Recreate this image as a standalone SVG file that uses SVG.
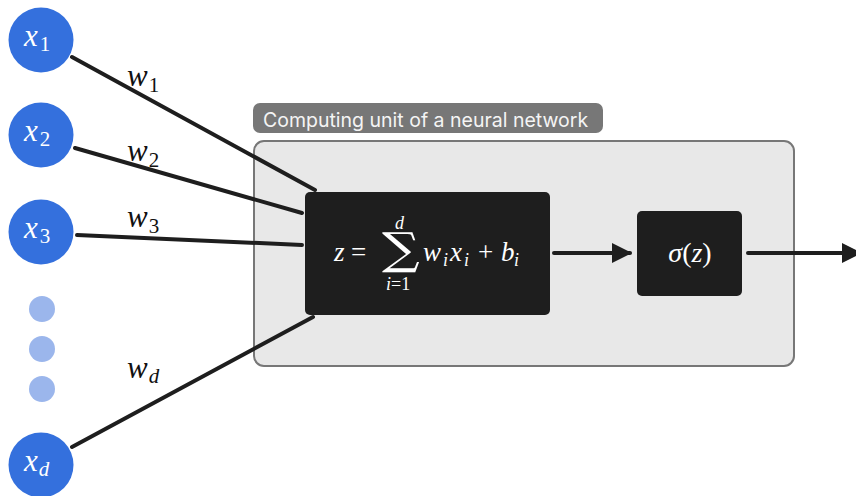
<svg xmlns="http://www.w3.org/2000/svg" width="856" height="496" viewBox="0 0 856 496">
  <style>
    .inp { fill: #3470dd; }
    .dot { fill: #9bb6ec; }
    .math { font-family: "Liberation Serif", "DejaVu Serif", serif; font-style: italic; }
    .up { font-style: normal; }
    .wt { fill: #111; font-size: 31px; }
    .lbl { fill: #fff; font-size: 31px; }
    .edge { stroke: #1e1e1e; stroke-width: 4; fill: none; stroke-linecap: round; }
    .blk { fill: #1e1e1e; }
    .f { fill: #fff; font-size: 27px; }
    .s { fill: #fff; font-size: 18px; }
    .big { fill: #fff; font-size: 44px; font-style: normal; font-family: "DejaVu Serif", serif; }
  </style>
  <defs>
    <marker id="head" viewBox="0 0 10 10" refX="9" refY="5" markerWidth="5" markerHeight="5.5" orient="auto" markerUnits="strokeWidth">
      <path d="M0,0 L10,5 L0,10 Z" fill="#1e1e1e"/>
    </marker>
  </defs>

  <!-- container for the computing unit -->
  <g id="unit">
    <rect x="254" y="141" width="540" height="225" rx="10" fill="#e8e8e8" stroke="#777" stroke-width="2"/>
    <rect x="253" y="103" width="350" height="30" rx="7" fill="#777"/>
    <text x="263" y="127" font-family="Inter, 'Noto Sans', sans-serif" font-size="19.5" fill="#f4f4f4">Computing unit of a neural network</text>
  </g>

  <!-- connectors -->
  <g id="edges">
    <line class="edge" x1="72" y1="57" x2="315" y2="190"/>
    <line class="edge" x1="75" y1="148" x2="302" y2="213"/>
    <line class="edge" x1="77" y1="235" x2="302" y2="245"/>
    <line class="edge" x1="72" y1="447" x2="313" y2="317"/>
    <line class="edge" x1="554" y1="253" x2="630" y2="253" marker-end="url(#head)"/>
    <line class="edge" x1="748" y1="253" x2="860" y2="253" marker-end="url(#head)"/>
  </g>

  <!-- weight labels -->
  <g id="weights" class="math wt">
    <text x="127" y="86">w<tspan class="up" font-size="21" dx="1" dy="6">1</tspan></text>
    <text x="127" y="161">w<tspan class="up" font-size="21" dx="1" dy="6">2</tspan></text>
    <text x="127" y="227">w<tspan class="up" font-size="21" dx="1" dy="6">3</tspan></text>
    <text x="127" y="378">w<tspan font-size="21" dx="1" dy="5">d</tspan></text>
  </g>

  <!-- inputs -->
  <g id="x1">
    <circle class="inp" cx="41" cy="40" r="32.5"/>
    <text class="math lbl" x="24" y="46">x<tspan class="up" font-size="21" dx="2" dy="5">1</tspan></text>
  </g>
  <g id="x2">
    <circle class="inp" cx="41" cy="135" r="32.5"/>
    <text class="math lbl" x="24" y="141">x<tspan class="up" font-size="21" dx="2" dy="5">2</tspan></text>
  </g>
  <g id="x3">
    <circle class="inp" cx="41" cy="232" r="32.5"/>
    <text class="math lbl" x="24" y="238">x<tspan class="up" font-size="21" dx="2" dy="5">3</tspan></text>
  </g>
  <g id="ellipsis">
    <circle class="dot" cx="42" cy="309" r="13"/>
    <circle class="dot" cx="42" cy="349" r="13"/>
    <circle class="dot" cx="42" cy="389" r="13"/>
  </g>
  <g id="xd">
    <circle class="inp" cx="41" cy="465" r="32.5"/>
    <text class="math lbl" x="24" y="471">x<tspan font-size="21" dx="1" dy="5">d</tspan></text>
  </g>

  <!-- weighted sum -->
  <g id="sum">
    <rect class="blk" x="305" y="192" width="245" height="123" rx="5"/>
    <g class="math">
      <text class="f" x="334" y="261">z</text>
      <text class="f up" x="351" y="261">=</text>
      <text class="big" transform="translate(382,264) scale(1.2,1)">∑</text>
      <text class="s" x="395" y="229">d</text>
      <text class="s" x="386" y="290">i<tspan class="up">=1</tspan></text>
      <text class="f" x="423" y="261">w</text>
      <text class="s" x="443" y="266">i</text>
      <text class="f" x="450" y="261">x</text>
      <text class="s" x="464" y="266">i</text>
      <text class="f up" x="478" y="261">+</text>
      <text class="f" x="501" y="261">b</text>
      <text class="s" x="514" y="266">i</text>
    </g>
  </g>

  <!-- activation -->
  <g id="act">
    <rect class="blk" x="637" y="211" width="105" height="85" rx="5"/>
    <text class="math" x="690" y="262" font-size="28" fill="#fff" text-anchor="middle">σ<tspan class="up">(</tspan>z<tspan class="up">)</tspan></text>
  </g>
</svg>
